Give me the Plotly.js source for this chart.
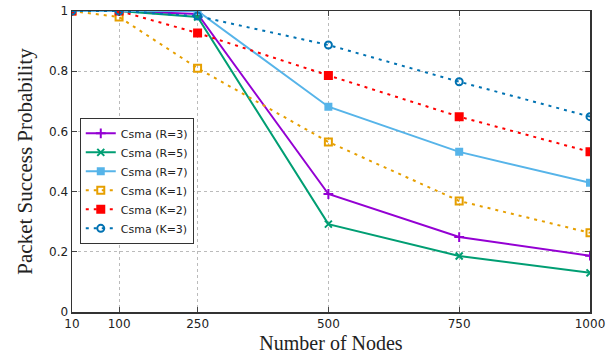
<!DOCTYPE html>
<html><head><meta charset="utf-8">
<script src="https://cdn.plot.ly/plotly-3.0.1.min.js"></script>
<style>body{margin:0;padding:0;background:#fff}#chart{width:613px;height:362px}</style>
</head><body><div id="chart"></div>
<script>
const nodes = [10, 100, 250, 500, 750, 1000];
const csmaR3 = [1.0, 1.0, 0.99, 0.392, 0.249, 0.187];
const csmaR5 = [1.0, 1.0, 0.98, 0.292, 0.186, 0.13];
const csmaR7 = [1.0, 1.0, 1.0, 0.682, 0.532, 0.429];
const csmaK1 = [1.0, 0.98, 0.81, 0.565, 0.369, 0.263];
const csmaK2 = [1.0, 1.0, 0.927, 0.786, 0.649, 0.532];
const csmaK3 = [1.0, 1.0, 0.983, 0.887, 0.765, 0.649];
const names = ["Csma (R=3)", "Csma (R=5)", "Csma (R=7)", "Csma (K=1)", "Csma (K=2)", "Csma (K=3)"];
const xTicks = [10, 100, 250, 500, 750, 1000];
const yTicks = [0, 0.2, 0.4, 0.6, 0.8, 1];

const series = [csmaR3, csmaR5, csmaR7, csmaK1, csmaK2, csmaK3];
const colors = ["#9400D3", "#009E73", "#56B4E9", "#E69F00", "#FF0000", "#0072B2"];
const symbols = ["cross-thin", "x-thin", "square", "square-open", "square", "circle-open"];
const dashes = ["solid", "solid", "solid", "3px,5px", "3px,5px", "3px,5px"];

const traces = series.map((ys, i) => ({
  x: nodes, y: ys, name: names[i], type: "scatter", mode: "lines+markers",
  line: {color: colors[i], width: 2, dash: dashes[i]},
  marker: {color: colors[i], symbol: symbols[i], size: i === 2 ? 6 : 7,
           line: {color: colors[i], width: 2}}
}));

const tickFont = {family: "DejaVu Sans", size: 12, color: "#222"};
const layout = {
  width: 613, height: 362,
  margin: {l: 72, r: 23, t: 11, b: 50},
  paper_bgcolor: "#fff", plot_bgcolor: "#fff",
  showlegend: true,
  legend: {x: 0.015, y: 0.645, xanchor: "left", yanchor: "top",
           bgcolor: "#fff", bordercolor: "#333", borderwidth: 1,
           font: {family: "DejaVu Sans", size: 11, color: "#222"},
           tracegroupgap: 0, itemwidth: 30},
  xaxis: {range: [10, 1000], tickvals: xTicks, ticks: "inside", ticklen: 5,
          mirror: "ticks", showline: true, linecolor: "#333", linewidth: 1.5,
          showgrid: true, gridcolor: "#bbb", griddash: "dot", gridwidth: 1,
          zeroline: false, tickfont: tickFont, ticklabeloverflow: "allow",
          automargin: false,
          title: {text: "Number of Nodes", font: {family: "Liberation Serif", size: 20, color: "#222"}, standoff: 6}},
  yaxis: {range: [0, 1], tickvals: yTicks, ticks: "inside", ticklen: 5,
          mirror: "ticks", showline: true, linecolor: "#333", linewidth: 1.5,
          showgrid: true, gridcolor: "#bbb", griddash: "dot", gridwidth: 1,
          zeroline: false, tickfont: tickFont, ticklabeloverflow: "allow",
          automargin: false,
          title: {text: "Packet Success Probability", font: {family: "Liberation Serif", size: 21, color: "#222"}, standoff: 10}}
};
Plotly.newPlot("chart", traces, layout, {displayModeBar: false, staticPlot: true});
</script></body></html>
